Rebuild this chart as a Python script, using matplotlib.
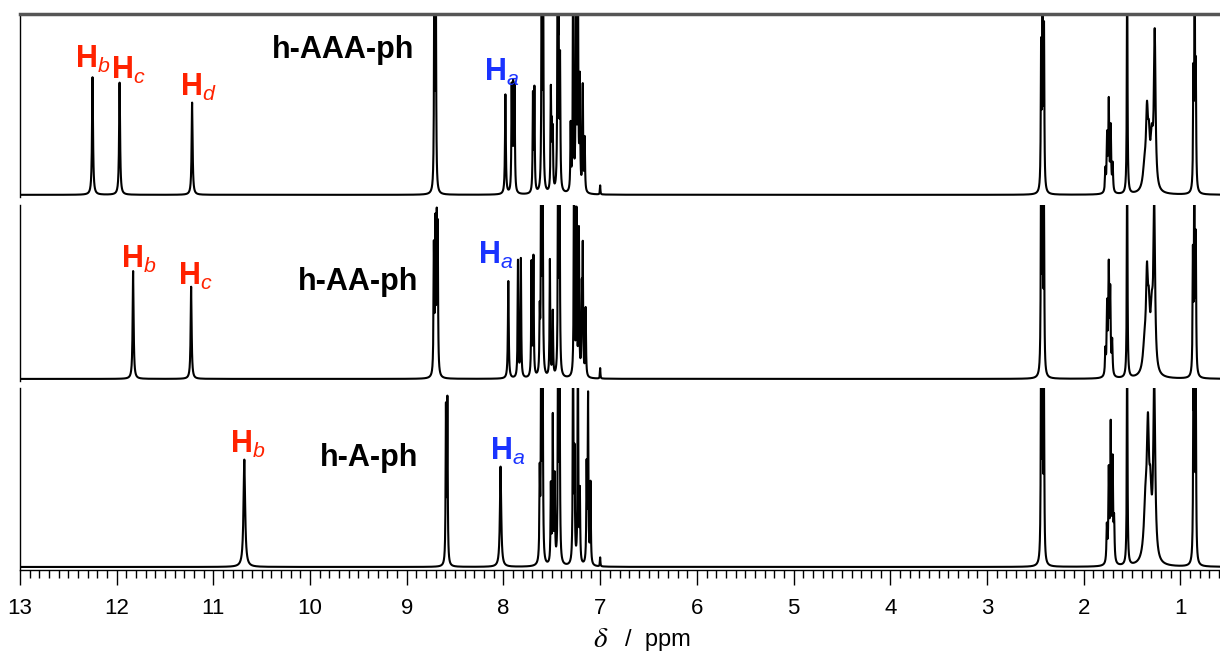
import numpy as np
import matplotlib
matplotlib.use("Agg")
import matplotlib.pyplot as plt
from matplotlib.ticker import MultipleLocator

plt.rcParams['font.family'] = ['Liberation Sans', 'DejaVu Sans']
plt.rcParams['mathtext.fontset'] = 'custom'
plt.rcParams['mathtext.it'] = 'Liberation Sans:italic'
plt.rcParams['mathtext.rm'] = 'Liberation Sans'

# peak lists: shift (ppm), height (panel fraction), half width (ppm)
aaa_shift = [12.25, 11.97, 11.22, 8.715, 8.70, 7.98, 7.915, 7.90, 7.885, 7.695, 7.68,
             7.605, 7.59, 7.51, 7.50, 7.49, 7.44, 7.43, 7.415, 7.305, 7.28, 7.25, 7.23,
             7.21, 7.18, 7.16, 7.00, 2.44, 2.425, 2.41, 1.775, 1.757, 1.74, 1.72, 1.70,
             1.55, 1.37, 1.345, 1.325, 1.295, 1.265, 0.865, 0.852, 0.84]
aaa_height = [0.65, 0.62, 0.51, 1.3, 1.3, 0.55, 0.57, 0.56, 0.57, 0.53, 0.56,
              1.3, 1.3, 0.54, 0.3, 0.31, 1.3, 0.9, 0.7, 0.36, 1.3, 1.3, 1.3,
              0.6, 0.58, 0.29, 0.05, 0.77, 1.3, 0.86, 0.12, 0.3, 0.49, 0.35, 0.15,
              1.3, 0.12, 0.38, 0.22, 0.25, 0.85, 0.6, 1.3, 0.62]
aaa_width = [0.006, 0.006, 0.006, 0.004, 0.004, 0.005, 0.004, 0.004, 0.004, 0.004, 0.004,
             0.004, 0.004, 0.004, 0.004, 0.004, 0.004, 0.004, 0.004, 0.004, 0.004, 0.004, 0.004,
             0.004, 0.004, 0.004, 0.003, 0.004, 0.004, 0.004, 0.005, 0.005, 0.005, 0.005, 0.005,
             0.004, 0.02, 0.012, 0.012, 0.015, 0.01, 0.004, 0.004, 0.004]

aa_shift = [11.83, 11.23, 8.72, 8.705, 8.69, 8.68, 7.95, 7.85, 7.82, 7.71, 7.69,
            7.625, 7.61, 7.595, 7.52, 7.49, 7.435, 7.42, 7.27, 7.245, 7.22, 7.19, 7.18,
            7.15, 7.00, 2.44, 2.425, 2.41, 1.775, 1.757, 1.74, 1.725, 1.705,
            1.55, 1.37, 1.345, 1.325, 1.295, 1.27, 0.87, 0.855, 0.84]
aa_height = [0.62, 0.53, 0.72, 0.83, 0.81, 0.78, 0.56, 0.67, 0.68, 0.65, 0.68,
             0.33, 1.3, 1.3, 0.67, 0.37, 1.3, 1.3, 1.3, 0.93, 0.83, 0.45, 0.71,
             0.39, 0.06, 1.3, 1.3, 0.9, 0.14, 0.39, 0.6, 0.46, 0.19,
             1.3, 0.15, 0.5, 0.28, 0.3, 0.95, 0.67, 1.3, 0.76]
aa_width = [0.006, 0.006, 0.004, 0.004, 0.004, 0.004, 0.005, 0.004, 0.004, 0.004, 0.004,
            0.004, 0.004, 0.004, 0.004, 0.004, 0.004, 0.004, 0.004, 0.004, 0.004, 0.004, 0.004,
            0.004, 0.003, 0.004, 0.004, 0.004, 0.005, 0.005, 0.005, 0.005, 0.005,
            0.004, 0.02, 0.012, 0.012, 0.015, 0.01, 0.004, 0.004, 0.004]

a_shift = [10.68, 8.595, 8.58, 8.03, 7.625, 7.61, 7.595, 7.51, 7.49, 7.47,
           7.435, 7.42, 7.28, 7.265, 7.23, 7.21, 7.14, 7.125, 7.10, 7.00,
           2.44, 2.425, 2.41, 1.76, 1.74, 1.72, 1.70, 1.685,
           1.55, 1.36, 1.335, 1.31, 1.27, 0.865, 0.855, 0.84]
a_height = [0.6, 0.86, 0.9, 0.56, 0.47, 1.3, 1.3, 0.43, 0.81, 0.47,
            1.3, 1.3, 1.3, 0.58, 1.3, 0.39, 0.53, 0.93, 0.45, 0.05,
            1.3, 1.3, 0.9, 0.2, 0.5, 0.75, 0.55, 0.22,
            1.3, 0.3, 0.65, 0.3, 1.0, 0.88, 1.3, 0.92]
a_width = [0.01, 0.004, 0.004, 0.008, 0.004, 0.004, 0.004, 0.004, 0.004, 0.004,
           0.004, 0.004, 0.004, 0.004, 0.004, 0.004, 0.004, 0.004, 0.004, 0.003,
           0.004, 0.004, 0.004, 0.005, 0.005, 0.005, 0.005, 0.005,
           0.004, 0.02, 0.013, 0.013, 0.012, 0.004, 0.004, 0.004]

names = ['h-AAA-ph', 'h-AA-ph', 'h-A-ph']
name_pos = [(9.66, 0.80), (9.50, 0.56), (9.39, 0.61)]
# proton labels: subscript, x (ppm), y (panel fraction), colour
aaa_labels = [('b', 12.25, 0.66, 'red'), ('c', 11.88, 0.60, 'red'),
              ('d', 11.15, 0.51, 'red'), ('a', 8.02, 0.59, 'blue')]
aa_labels = [('b', 11.77, 0.60, 'red'), ('c', 11.19, 0.50, 'red'),
             ('a', 8.08, 0.62, 'blue')]
a_labels = [('b', 10.64, 0.60, 'red'), ('a', 7.96, 0.56, 'blue')]

colors = {'red': '#ff2200', 'blue': '#1a33ff'}

ppm = np.arange(0.5, 13.2, 0.0005)


def spectrum(x, shifts, heights, widths):
    y = np.zeros_like(x)
    for s, h, w in zip(shifts, heights, widths):
        y += h * w**2 / ((x - s)**2 + w**2)
    return y


fig = plt.figure(figsize=(12.2, 6.56), dpi=100)
boxes = [[20/1220, 1 - 197/656, 1200/1220, 183/656],
         [20/1220, 1 - 381/656, 1200/1220, 176/656],
         [20/1220, 1 - 570/656, 1200/1220, 182/656]]
peaks = [(aaa_shift, aaa_height, aaa_width),
         (aa_shift, aa_height, aa_width),
         (a_shift, a_height, a_width)]
labels = [aaa_labels, aa_labels, a_labels]

axes = []
for i in range(3):
    ax = fig.add_axes(boxes[i])
    y = spectrum(ppm, *peaks[i])
    ax.plot(ppm, y, color='black', lw=1.5)
    ax.set_xlim(13, 0.59)
    ax.set_ylim(-0.012 if i < 2 else -0.017, 1.0)
    for side in ['right', 'top', 'bottom']:
        ax.spines[side].set_visible(False)
    ax.spines['left'].set_linewidth(1.0)
    ax.set_yticks([])
    ax.text(name_pos[i][0], name_pos[i][1], names[i], fontsize=22,
            fontweight='bold', ha='center', va='center')
    for sub, x, yy, c in labels[i]:
        ax.text(x, yy, r'H$_{\mathit{%s}}$' % sub, fontsize=22, fontweight='bold',
                color=colors[c], ha='center', va='bottom')
    axes.append(ax)

axes[0].spines['top'].set_visible(True)
axes[0].spines['top'].set_color('#555555')
axes[0].spines['top'].set_linewidth(2.5)

for ax in axes[:2]:
    ax.set_xticks([])

ax3 = axes[2]
ax3.spines['bottom'].set_visible(True)
ax3.spines['bottom'].set_linewidth(1.0)
ax3.xaxis.set_major_locator(MultipleLocator(1))
ax3.xaxis.set_minor_locator(MultipleLocator(0.1))
ax3.tick_params(axis='x', which='major', direction='out', length=11, width=1.0,
                labelsize=16, pad=9)
ax3.tick_params(axis='x', which='minor', direction='out', length=6, width=1.0)

fig.text(0.492, 0.005, r'$\delta$', fontsize=21, ha='center', va='bottom',
         math_fontfamily='stix')
fig.text(0.512, 0.008, '/  ppm', fontsize=17, ha='left', va='bottom')

fig.savefig('out.png', dpi=100)
